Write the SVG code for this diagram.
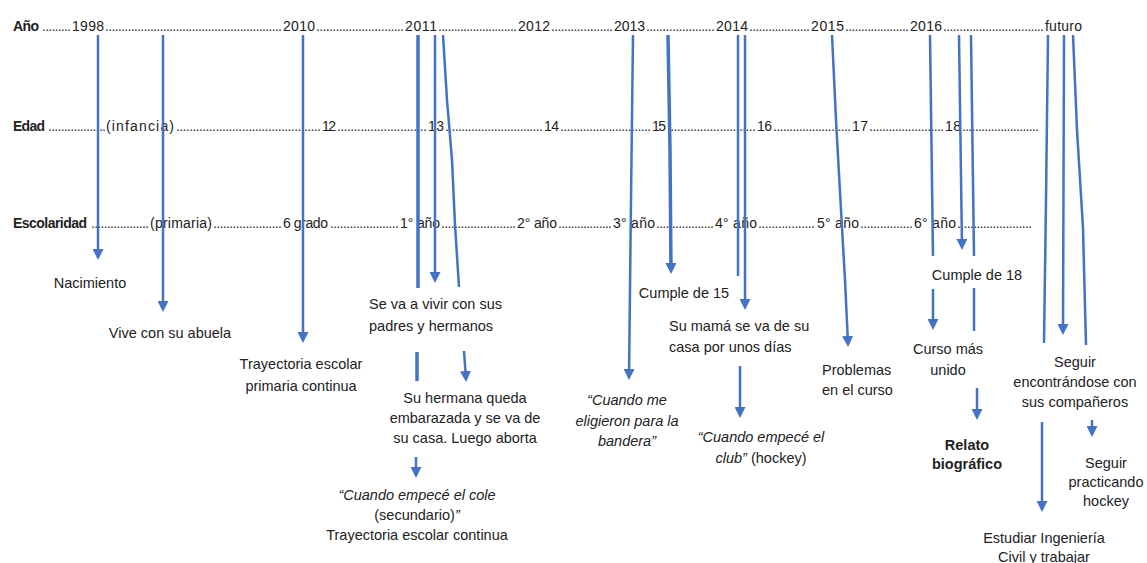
<svg xmlns="http://www.w3.org/2000/svg" width="1147" height="563" viewBox="0 0 1147 563">
<style>
text{font-family:"Liberation Sans",Arial,sans-serif;font-size:14.5px;fill:#222}
.h{font-size:14px}
.b{font-weight:bold}
.i{font-style:italic}
.c{text-anchor:middle}
.d{fill:#333}
#connectors path{fill:none;stroke:#4472C4;stroke-width:2.5}
#connectors path.t{stroke-width:3.5}
#connectors path.a{marker-end:url(#ah)}
</style>
<defs>
<marker id="ah" markerUnits="userSpaceOnUse" markerWidth="11" markerHeight="11" viewBox="0 0 11 11" refX="8" refY="5.5" orient="auto">
<path d="M0,0 L11,5.5 L0,11 z" fill="#4472C4"/>
</marker>
</defs>
<rect width="1147" height="563" fill="#fff"/>

<g id="row-anio">
<text class="h" y="31"><tspan class="b" x="13" textLength="26">Año</tspan><tspan class="d" x="42" textLength="29" lengthAdjust="spacing">.........</tspan><tspan x="72" textLength="32">1998</tspan><tspan class="d" x="105" textLength="177" lengthAdjust="spacing">.......................................................</tspan><tspan x="283" textLength="32">2010</tspan><tspan class="d" x="316" textLength="88" lengthAdjust="spacing">...........................</tspan><tspan x="405" textLength="32">2011</tspan><tspan class="d" x="438" textLength="79" lengthAdjust="spacing">.........................</tspan><tspan x="518" textLength="32">2012</tspan><tspan class="d" x="551" textLength="62" lengthAdjust="spacing">...................</tspan><tspan x="614" textLength="31">2013</tspan><tspan class="d" x="646" textLength="69" lengthAdjust="spacing">.....................</tspan><tspan x="716" textLength="32">2014</tspan><tspan class="d" x="749" textLength="61" lengthAdjust="spacing">...................</tspan><tspan x="811" textLength="33">2015</tspan><tspan class="d" x="845" textLength="64" lengthAdjust="spacing">....................</tspan><tspan x="910" textLength="32">2016</tspan><tspan class="d" x="943" textLength="101" lengthAdjust="spacing">...............................</tspan><tspan x="1045" textLength="37">futuro</tspan></text>
</g>

<g id="row-edad">
<text class="h" y="131"><tspan class="b" x="13" textLength="32">Edad</tspan><tspan class="d" x="48" textLength="58" lengthAdjust="spacing">..................</tspan><tspan x="106" textLength="68">(infancia)</tspan><tspan class="d" x="176" textLength="145" lengthAdjust="spacing">............................................</tspan><tspan x="322" textLength="14">12</tspan><tspan class="d" x="337" textLength="90" lengthAdjust="spacing">...........................</tspan><tspan x="428" textLength="16">13</tspan><tspan class="d" x="445" textLength="98" lengthAdjust="spacing">..............................</tspan><tspan x="544" textLength="15">14</tspan><tspan class="d" x="560" textLength="91" lengthAdjust="spacing">............................</tspan><tspan x="652" textLength="14">15</tspan><tspan class="d" x="667" textLength="89" lengthAdjust="spacing">...........................</tspan><tspan x="757" textLength="15">16</tspan><tspan class="d" x="773" textLength="78" lengthAdjust="spacing">........................</tspan><tspan x="852" textLength="16">17</tspan><tspan class="d" x="869" textLength="75" lengthAdjust="spacing">.......................</tspan><tspan x="945" textLength="16">18</tspan><tspan class="d" x="962" textLength="77" lengthAdjust="spacing">........................</tspan></text>
</g>

<g id="row-escolaridad">
<text class="h" y="228"><tspan class="b" x="13" textLength="74">Escolaridad</tspan><tspan class="d" x="91" textLength="58" lengthAdjust="spacing">..................</tspan><tspan x="150" textLength="62">(primaria)</tspan><tspan class="d" x="213" textLength="69" lengthAdjust="spacing">.....................</tspan><tspan x="283" textLength="45">6 grado</tspan><tspan class="d" x="330" textLength="69" lengthAdjust="spacing">.....................</tspan><tspan x="400" textLength="40">1° año</tspan><tspan class="d" x="441" textLength="75" lengthAdjust="spacing">.......................</tspan><tspan x="517" textLength="40">2° año</tspan><tspan class="d" x="558" textLength="54" lengthAdjust="spacing">.................</tspan><tspan x="613" textLength="42">3° año</tspan><tspan class="d" x="656" textLength="58" lengthAdjust="spacing">..................</tspan><tspan x="715" textLength="42">4° año</tspan><tspan class="d" x="758" textLength="57" lengthAdjust="spacing">.................</tspan><tspan x="817" textLength="42">5° año</tspan><tspan class="d" x="860" textLength="53" lengthAdjust="spacing">................</tspan><tspan x="914" textLength="42">6° año</tspan><tspan class="d" x="957" textLength="75" lengthAdjust="spacing">.......................</tspan></text>
</g>

<g id="connectors">
<path class="a" d="M98,35 V257"/>
<path class="a" d="M163,35 V309"/>
<path class="a" d="M303,35 V340"/>
<path class="t" d="M418,35 V288"/>
<path class="a" d="M435,35 V280"/>
<path d="M443,35 L447,100 L452,160 L455,225 L459,287"/>
<path class="t" d="M417,352 V381"/>
<path class="a" d="M464,351 L466,379"/>
<path class="a" d="M416,457 V475"/>
<path class="a" d="M633,35 L631,200 L629,377"/>
<path class="a t" d="M668,35 L670,150 L671,271"/>
<path d="M738,35 V276"/>
<path class="a" d="M745,35 V307"/>
<path class="a" d="M740,366 V415"/>
<path class="a" d="M832,35 L836,120 L841,210 L845,280 L848,344"/>
<path d="M930,35 L933,256"/>
<path class="a" d="M933,289 V327"/>
<path class="a" d="M959,35 L962,247"/>
<path d="M971,35 L974,256"/>
<path d="M974,288 V331"/>
<path class="a" d="M977,388 V417"/>
<path d="M1048,35 L1046,200 L1044,343"/>
<path class="a" d="M1064,35 L1063,332"/>
<path d="M1073,35 L1077,130 L1083,228 L1086,345"/>
<path class="a" d="M1042,422 V509"/>
<path class="a" d="M1092,420 V434"/>
</g>

<g id="nacimiento"><text x="90" y="288" class="c">Nacimiento</text></g>
<g id="abuela"><text x="170" y="338" class="c">Vive con su abuela</text></g>
<g id="trayectoria-primaria"><text x="301" y="369" class="c">Trayectoria escolar</text><text x="301" y="391" class="c">primaria continua</text></g>
<g id="vivir-padres"><text x="369" y="309">Se va a vivir con sus</text><text x="369" y="331">padres y hermanos</text></g>
<g id="hermana"><text x="465" y="403" class="c">Su hermana queda</text><text x="465" y="423" class="c">embarazada y se va de</text><text x="465" y="443" class="c">su casa. Luego aborta</text></g>
<g id="cole"><text x="417" y="500" class="c i">“Cuando empecé el cole</text><text x="417" y="520" class="c">(secundario)<tspan class="i">”</tspan></text><text x="417" y="540" class="c">Trayectoria escolar continua</text></g>
<g id="bandera"><text x="627" y="405" class="c i">“Cuando me</text><text x="627" y="426" class="c i">eligieron para la</text><text x="627" y="446" class="c i">bandera”</text></g>
<g id="cumple15"><text x="684" y="298" class="c">Cumple de 15</text></g>
<g id="mama"><text x="669" y="331">Su mamá se va de su</text><text x="669" y="352">casa por unos días</text></g>
<g id="club"><text x="761" y="442" class="c i">“Cuando empecé el</text><text x="761" y="463" class="c"><tspan class="i">club”</tspan> (hockey)</text></g>
<g id="problemas"><text x="822" y="375">Problemas</text><text x="822" y="395">en el curso</text></g>
<g id="cumple18"><text x="977" y="280" class="c">Cumple de 18</text></g>
<g id="curso-unido"><text x="948" y="354" class="c">Curso más</text><text x="948" y="375" class="c">unido</text></g>
<g id="relato"><text x="967" y="450" class="c b">Relato</text><text x="967" y="469" class="c b">biográfico</text></g>
<g id="companeros"><text x="1075" y="367" class="c">Seguir</text><text x="1075" y="387" class="c">encontrándose con</text><text x="1075" y="407" class="c">sus compañeros</text></g>
<g id="hockey"><text x="1106" y="468" class="c">Seguir</text><text x="1106" y="487" class="c">practicando</text><text x="1106" y="506" class="c">hockey</text></g>
<g id="ingenieria"><text x="1044" y="543" class="c">Estudiar Ingeniería</text><text x="1044" y="562" class="c">Civil y trabajar</text></g>
</svg>
